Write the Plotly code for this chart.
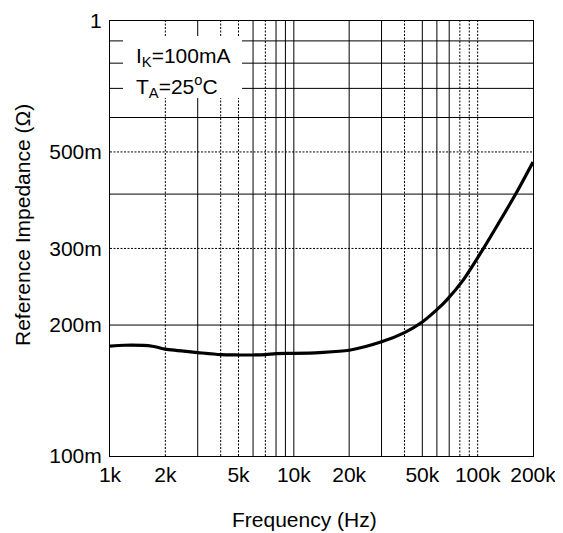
import plotly.graph_objects as go

# ---- data ----
freq_hz = [1000, 1200, 1700, 2000, 3000, 4000, 5000, 6000, 7000, 8000, 10000,
           13800, 20000, 30000, 40000, 50000, 60000, 67600, 83000, 107000,
           130000, 163600, 200000]
impedance_ohm = [0.1788, 0.1797, 0.1788, 0.1760, 0.1729, 0.1710, 0.1707, 0.1707,
                 0.1710, 0.1720, 0.1722, 0.1729, 0.1750, 0.1830, 0.1922, 0.2033,
                 0.2170, 0.2280, 0.2530, 0.2990, 0.3430, 0.4050, 0.4740]

x_tick_vals = [1000, 2000, 5000, 10000, 20000, 50000, 100000, 200000]
x_tick_text = ["1k", "2k", "5k", "10k", "20k", "50k", "100k", "200k"]
y_tick_vals = [0.1, 0.2, 0.3, 0.5, 1.0]
y_tick_text = ["100m", "200m", "300m", "500m", "1"]

x_grid_solid = [3000, 6000, 8000, 9000, 10000, 20000, 30000, 50000, 60000, 70000]
x_grid_dotted = [2000, 4000, 5000, 7000, 40000, 80000, 90000, 100000]
y_grid_solid = [0.2, 0.4, 0.6, 0.7, 0.8, 0.9]
y_grid_dotted = [0.3, 0.5]

X_MIN, X_MAX = 1000, 200000
Y_MIN, Y_MAX = 0.1, 1.0

FONT = "Liberation Sans, Arial, sans-serif"

def vlines(xs):
    px, py = [], []
    for v in xs:
        px += [v, v, None]
        py += [Y_MIN, Y_MAX, None]
    return px, py

def hlines(ys):
    px, py = [], []
    for v in ys:
        px += [X_MIN, X_MAX, None]
        py += [v, v, None]
    return px, py

fig = go.Figure()
for xs, dash in [(x_grid_solid, "solid"), (x_grid_dotted, "2px,1.5px")]:
    gx, gy = vlines(xs)
    fig.add_trace(go.Scatter(x=gx, y=gy, mode="lines",
                             line=dict(color="black", width=1, dash=dash),
                             hoverinfo="skip", showlegend=False))
for ys, dash in [(y_grid_solid, "solid"), (y_grid_dotted, "2px,1.5px")]:
    gx, gy = hlines(ys)
    fig.add_trace(go.Scatter(x=gx, y=gy, mode="lines",
                             line=dict(color="black", width=1, dash=dash),
                             hoverinfo="skip", showlegend=False))

fig.add_trace(go.Scatter(x=freq_hz, y=impedance_ohm, mode="lines",
                         line=dict(color="black", width=3.2, shape="spline", smoothing=0.8),
                         showlegend=False))

# page has an 8px body margin; size the figure so it fits the 563x533 window
OFF = 8
W, H = 563 - OFF, 533 - OFF
L, R, T, B = 110 - OFF, 30, 21 - OFF, 77
pw, ph = W - L - R, H - T - B

def px2x(px):
    return (px - OFF - L) / pw

def py2y(py):
    return (H - B - (py - OFF)) / ph

# white label box
fig.add_shape(type="rect", xref="paper", yref="paper",
              x0=px2x(123), x1=px2x(242), y0=py2y(98), y1=py2y(36),
              fillcolor="white", line=dict(width=0), layer="above")

fig.add_annotation(xref="paper", yref="paper", x=px2x(134), y=py2y(57),
                   xanchor="left", yanchor="middle", showarrow=False,
                   text="I<sub>K</sub>=100mA", font=dict(family=FONT, size=21, color="black"))
fig.add_annotation(xref="paper", yref="paper", x=px2x(134), y=py2y(86),
                   xanchor="left", yanchor="middle", showarrow=False,
                   text="T<sub>A</sub>=25<sup>o</sup>C", font=dict(family=FONT, size=21, color="black"))

# axis titles
fig.add_annotation(xref="paper", yref="paper", x=px2x(304), y=py2y(519),
                   xanchor="center", yanchor="middle", showarrow=False,
                   text="Frequency (Hz)", font=dict(family=FONT, size=21, color="black"))
fig.add_annotation(xref="paper", yref="paper", x=px2x(22), y=py2y(225),
                   xanchor="center", yanchor="middle", showarrow=False, textangle=-90,
                   text="Reference Impedance (Ω)", font=dict(family=FONT, size=21, color="black"))

fig.update_xaxes(type="log", range=[3, 5.30103], tickvals=x_tick_vals, ticktext=x_tick_text,
                 showgrid=False, zeroline=False, showline=True, mirror=True,
                 linecolor="black", linewidth=1, ticks="",
                 tickfont=dict(family=FONT, size=21, color="black"))
fig.update_yaxes(type="log", range=[-1, 0], tickvals=y_tick_vals, ticktext=y_tick_text,
                 showgrid=False, zeroline=False, showline=True, mirror=True,
                 linecolor="black", linewidth=1, ticks="", ticklabelstandoff=3,
                 tickfont=dict(family=FONT, size=21, color="black"))

fig.update_layout(width=W, height=H,
                  margin=dict(l=L, r=R, t=T, b=B, autoexpand=False),
                  paper_bgcolor="white", plot_bgcolor="white",
                  font=dict(family=FONT, size=21, color="black"))

fig.write_html("out.html")
